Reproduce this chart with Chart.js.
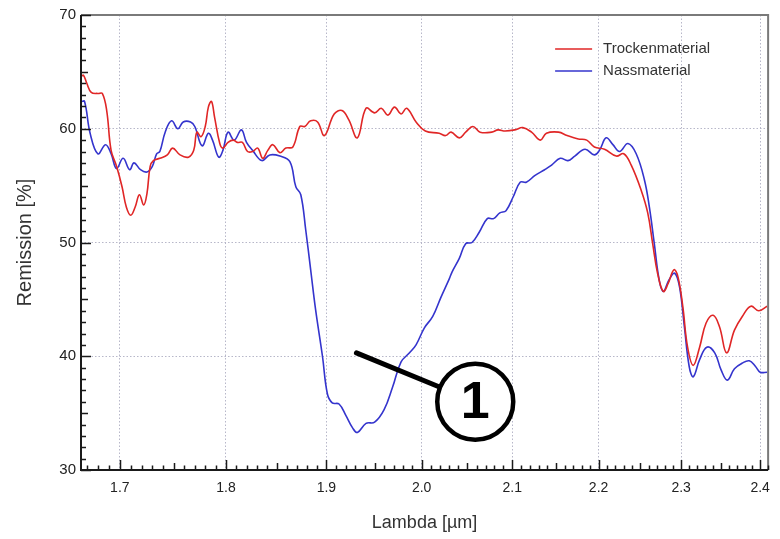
<!DOCTYPE html>
<html>
<head>
<meta charset="utf-8">
<script src="https://cdn.jsdelivr.net/npm/chart.js@4/dist/chart.umd.min.js"></script>
<style>
  html, body { margin: 0; padding: 0; background: #fff; }
  #wrap { width: 780px; height: 539px; }
</style>
</head>
<body>
<div id="wrap"><canvas id="remChart" width="780" height="539"></canvas></div>
<script>
// Trockenmaterial (rot)
const lambdaTrocken = [
  1.665, 1.667, 1.670, 1.674, 1.680, 1.684, 1.688, 1.692, 1.697, 1.702,
  1.706, 1.710, 1.714, 1.718, 1.722, 1.725, 1.728, 1.731, 1.737, 1.744,
  1.749, 1.756, 1.764, 1.769, 1.772, 1.776, 1.780, 1.783, 1.786, 1.789,
  1.794, 1.797, 1.802, 1.807, 1.811, 1.816, 1.821, 1.826, 1.831, 1.836,
  1.841, 1.846, 1.853, 1.859, 1.866, 1.873, 1.878, 1.884, 1.891, 1.898,
  1.908, 1.916, 1.923, 1.932, 1.941, 1.950, 1.957, 1.964, 1.971, 1.978,
  1.984, 1.994, 2.004, 2.019, 2.026, 2.032, 2.041, 2.048, 2.056, 2.064,
  2.077, 2.084, 2.092, 2.103, 2.112, 2.122, 2.132, 2.139, 2.153, 2.163,
  2.176, 2.186, 2.195, 2.207, 2.221, 2.230, 2.239, 2.251, 2.259, 2.265,
  2.271, 2.278, 2.284, 2.291, 2.296, 2.302, 2.308, 2.315, 2.323, 2.331,
  2.340, 2.348, 2.357, 2.367, 2.377, 2.388, 2.398, 2.409
];
const remissionTrocken = [
  64.6, 64.7, 64.0, 63.2, 63.1, 63.1, 61.6, 58.1, 56.7, 54.9,
  53.1, 52.4, 53.1, 54.2, 53.3, 54.3, 56.7, 57.2, 57.4, 57.7,
  58.3, 57.7, 57.5, 58.1, 59.7, 59.3, 60.2, 61.9, 62.4, 61.0,
  58.7, 58.3, 58.8, 59.0, 58.8, 58.8, 58.0, 58.0, 58.3, 57.4,
  58.1, 58.6, 57.9, 58.3, 58.4, 60.2, 60.2, 60.7, 60.6, 59.4,
  61.3, 61.6, 60.8, 59.2, 61.8, 61.4, 61.8, 61.2, 61.9, 61.3,
  61.8, 60.6, 59.8, 59.6, 59.4, 59.7, 59.2, 59.7, 60.2, 59.7,
  59.7, 59.9, 59.8, 59.9, 60.1, 59.7, 59.0, 59.6, 59.7, 59.4,
  59.1, 59.0, 58.4, 58.2, 57.6, 57.8, 56.8, 54.6, 52.6, 49.9,
  47.3, 45.7, 46.4, 47.6, 47.0, 44.4, 40.8, 39.2, 40.8, 42.9,
  43.6, 42.6, 40.3, 42.3, 43.5, 44.4, 44.0, 44.4
];

// Nassmaterial (blau)
const lambdaNass = [
  1.665, 1.668, 1.673, 1.680, 1.687, 1.692, 1.697, 1.703, 1.709, 1.713,
  1.719, 1.725, 1.730, 1.734, 1.737, 1.742, 1.748, 1.754, 1.759, 1.766,
  1.770, 1.777, 1.783, 1.787, 1.793, 1.797, 1.802, 1.808, 1.815, 1.820,
  1.826, 1.835, 1.843, 1.853, 1.863, 1.869, 1.874, 1.879, 1.884, 1.889,
  1.896, 1.901, 1.906, 1.913, 1.920, 1.927, 1.932, 1.941, 1.950, 1.960,
  1.969, 1.978, 1.987, 1.994, 2.003, 2.012, 2.021, 2.030, 2.033, 2.041,
  2.048, 2.055, 2.063, 2.072, 2.079, 2.086, 2.093, 2.101, 2.109, 2.116,
  2.126, 2.137, 2.145, 2.155, 2.164, 2.172, 2.184, 2.195, 2.201, 2.209,
  2.217, 2.225, 2.235, 2.245, 2.255, 2.261, 2.267, 2.273, 2.278, 2.285,
  2.292, 2.298, 2.304, 2.310, 2.315, 2.323, 2.332, 2.342, 2.350, 2.358,
  2.367, 2.377, 2.386, 2.394, 2.400, 2.409
];
const remissionNass = [
  62.4, 62.4, 59.6, 57.8, 58.6, 57.8, 56.5, 57.4, 56.4, 57.0,
  56.4, 56.2, 56.7, 57.8, 58.0, 59.7, 60.7, 60.0, 60.6, 60.6,
  60.2, 58.5, 59.6, 59.0, 57.5, 58.1, 59.7, 59.0, 59.9, 58.8,
  58.1, 57.2, 57.7, 57.6, 57.1, 54.9, 54.2, 51.1, 47.6, 44.1,
  40.0, 36.7, 35.9, 35.8, 34.8, 33.7, 33.3, 34.1, 34.2, 35.3,
  37.3, 39.5, 40.3, 41.0, 42.5, 43.5, 45.2, 46.8, 47.4, 48.6,
  49.9, 50.0, 50.9, 52.1, 52.1, 52.6, 52.8, 54.0, 55.3, 55.3,
  55.9, 56.4, 56.8, 57.4, 57.2, 57.6, 58.2, 57.7, 58.1, 59.2,
  58.6, 58.0, 58.7, 57.8, 55.5, 53.1, 49.9, 46.7, 45.7, 46.7,
  47.3, 46.1, 42.6, 39.1, 38.2, 39.7, 40.8, 40.3, 38.8, 37.9,
  38.9, 39.4, 39.6, 39.1, 38.6, 38.6
];

const xTicks = [1.7, 1.8, 1.9, 2.0, 2.1, 2.2, 2.3, 2.4];
const yTicks = [30, 40, 50, 60, 70];
const seriesNames = ["Trockenmaterial", "Nassmaterial"];

// Markierung "1": Linie von calloutFrom zum Kreis um calloutAt
const calloutFrom = [1.931, 40.3];
const calloutAt = [2.0586, 36.0];
const calloutText = "1";

const FONT = "'Liberation Sans', Arial, sans-serif";
const RED = "rgb(224, 38, 38)";
const BLUE = "rgb(52, 52, 205)";

function toPoints(xs, ys) {
  return xs.map((x, i) => ({ x: x, y: ys[i] }));
}

// Achsen, Teilstriche, Legende und Markierung
const decor = {
  id: "decor",
  afterDatasetsDraw(chart) {
    const { ctx, scales: { x, y } } = chart;
    const p0x = x.getPixelForValue(calloutFrom[0]);
    const p0y = y.getPixelForValue(calloutFrom[1]);
    const cx = x.getPixelForValue(calloutAt[0]);
    const cy = y.getPixelForValue(calloutAt[1]);
    const r = 38;
    const ang = Math.atan2(p0y - cy, p0x - cx);
    ctx.save();
    ctx.strokeStyle = "#000";
    ctx.lineWidth = 5;
    ctx.lineCap = "round";
    ctx.beginPath();
    ctx.moveTo(p0x, p0y);
    ctx.lineTo(cx + r * Math.cos(ang), cy + r * Math.sin(ang));
    ctx.stroke();
    ctx.lineWidth = 4.5;
    ctx.fillStyle = "#fff";
    ctx.beginPath();
    ctx.arc(cx, cy, r, 0, Math.PI * 2);
    ctx.fill();
    ctx.stroke();
    ctx.fillStyle = "#000";
    ctx.font = "bold 52px " + FONT;
    ctx.textAlign = "center";
    ctx.textBaseline = "middle";
    ctx.fillText(calloutText, cx, cy + 2);
    ctx.restore();
  },
  afterDraw(chart) {
    const { ctx, chartArea: a, scales: { x, y } } = chart;
    ctx.save();
    // Rahmen oben / rechts
    ctx.strokeStyle = "#7a7a7a";
    ctx.lineWidth = 2;
    ctx.beginPath();
    ctx.moveTo(a.left, a.top);
    ctx.lineTo(a.right, a.top);
    ctx.lineTo(a.right, a.bottom);
    ctx.stroke();

    // Achsen links / unten
    ctx.strokeStyle = "#1a1a1a";
    ctx.lineWidth = 2;
    ctx.beginPath();
    ctx.moveTo(a.left, a.top);
    ctx.lineTo(a.left, a.bottom);
    ctx.lineTo(a.right, a.bottom);
    ctx.stroke();

    // Teilstriche x (0.01 Schritte)
    ctx.lineWidth = 1.5;
    ctx.beginPath();
    for (let i = 166; i <= 241; i++) {
      const v = i / 100;
      if (v < x.min || v > x.max) continue;
      const px = Math.round(x.getPixelForValue(v)) + 0.5;
      const len = i % 10 === 0 ? 10 : i % 5 === 0 ? 7 : 4.5;
      ctx.moveTo(px, a.bottom);
      ctx.lineTo(px, a.bottom - len);
    }
    // Teilstriche y (1er Schritte)
    for (let v = 30; v <= 70; v++) {
      const py = Math.round(y.getPixelForValue(v)) + 0.5;
      const len = v % 10 === 0 ? 10 : v % 5 === 0 ? 7 : 5;
      ctx.moveTo(a.left, py);
      ctx.lineTo(a.left + len, py);
    }
    ctx.stroke();

    // Legende
    const lx = a.left + 0.69 * (a.right - a.left);
    const ly = a.top + 34;
    [RED, BLUE].forEach((c, i) => {
      const yy = ly + i * 22;
      ctx.strokeStyle = c;
      ctx.lineWidth = 1.5;
      ctx.beginPath();
      ctx.moveTo(lx, yy);
      ctx.lineTo(lx + 37, yy);
      ctx.stroke();
      ctx.fillStyle = "#333";
      ctx.font = "15px " + FONT;
      ctx.textAlign = "left";
      ctx.textBaseline = "middle";
      ctx.fillText(seriesNames[i], lx + 48, yy);
    });
    ctx.restore();
  }
};

document.addEventListener("DOMContentLoaded", function () {
  const ctx = document.getElementById("remChart").getContext("2d");
  new Chart(ctx, {
    type: "line",
    data: {
      datasets: [
        {
          label: seriesNames[0],
          data: toPoints(lambdaTrocken, remissionTrocken),
          borderColor: RED,
          borderWidth: 1.6,
          pointRadius: 0,
          tension: 0.4,
          fill: false
        },
        {
          label: seriesNames[1],
          data: toPoints(lambdaNass, remissionNass),
          borderColor: BLUE,
          borderWidth: 1.6,
          pointRadius: 0,
          tension: 0.4,
          fill: false
        }
      ]
    },
    options: {
      responsive: false,
      animation: false,
      events: [],
      layout: { padding: { top: 15, right: 9, left: 0, bottom: 0 } },
      plugins: { legend: { display: false }, tooltip: { enabled: false } },
      scales: {
        x: {
          type: "logarithmic",
          min: 1.6648,
          max: 2.4103,
          afterBuildTicks: (s) => { s.ticks = xTicks.map((v) => ({ value: v })); },
          afterFit: (s) => { s.height = 69; },
          ticks: {
            callback: (v) => Number(v).toFixed(1),
            color: "#222",
            font: { family: FONT, size: 14 },
            padding: 10,
            maxRotation: 0,
            autoSkip: false
          },
          grid: { color: "rgba(175,175,195,0.9)", lineWidth: 1, drawTicks: false },
          border: { display: false, dash: [1.5, 2] },
          title: {
            display: true,
            text: "Lambda [µm]",
            color: "#333",
            font: { family: FONT, size: 18 },
            padding: { top: 0, bottom: 5 }
          }
        },
        y: {
          type: "linear",
          min: 30,
          max: 70,
          afterBuildTicks: (s) => { s.ticks = yTicks.map((v) => ({ value: v })); },
          afterFit: (s) => { s.width = 81; },
          ticks: {
            color: "#222",
            font: { family: FONT, size: 15 },
            padding: 5
          },
          grid: { color: "rgba(175,175,195,0.9)", lineWidth: 1, drawTicks: false },
          border: { display: false, dash: [1.5, 2] },
          title: {
            display: true,
            text: "Remission [%]",
            color: "#333",
            font: { family: FONT, size: 20 },
            padding: { top: 13, bottom: 0 }
          }
        }
      }
    },
    plugins: [decor]
  });
});
</script>
</body>
</html>
